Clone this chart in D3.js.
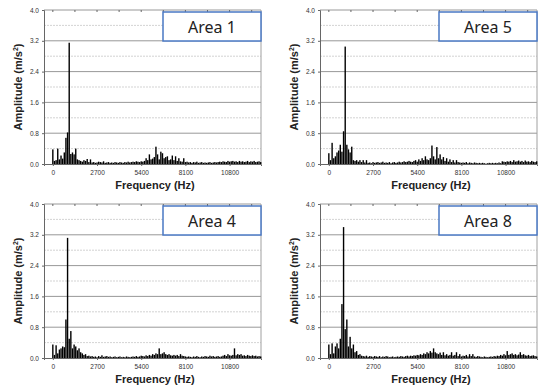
<!DOCTYPE html>
<html>
<head>
<meta charset="utf-8">
<script src="https://cdn.jsdelivr.net/npm/d3@7"></script>
<style>
  body { margin: 0; background: #fff; }
  svg { display: block; }
</style>
</head>
<body>
<div id="chart"></div>
<script>
// spectrum amplitude per 100 Hz bin, from 0 Hz to 12700 Hz
const area1 = [0.38,0.08,0.1,0.4,0.12,0.22,0.14,0.3,0.68,0.82,3.15,0.26,0.3,0.25,0.4,0.12,0.1,0.08,0.06,0.1,
  0.08,0.13,0.05,0.12,0.04,0.05,0.03,0.04,0.06,0.05,0.04,0.07,0.03,0.04,0.05,0.03,0.04,0.03,0.05,0.04,
  0.03,0.05,0.04,0.03,0.05,0.04,0.06,0.04,0.05,0.06,0.05,0.07,0.06,0.05,0.07,0.06,0.08,0.15,0.1,0.25,
  0.12,0.14,0.18,0.45,0.25,0.12,0.32,0.28,0.15,0.18,0.2,0.1,0.12,0.22,0.1,0.2,0.08,0.15,0.07,0.06,
  0.15,0.05,0.06,0.04,0.05,0.03,0.05,0.04,0.06,0.03,0.04,0.05,0.03,0.04,0.03,0.04,0.05,0.03,0.04,0.05,
  0.04,0.05,0.06,0.05,0.07,0.06,0.05,0.08,0.06,0.07,0.08,0.06,0.07,0.05,0.08,0.06,0.07,0.05,0.06,0.08,
  0.05,0.07,0.06,0.08,0.05,0.06,0.07,0.05];
const area5 = [0.28,0.1,0.55,0.15,0.2,0.3,0.35,0.5,0.32,0.85,3.05,0.5,0.38,0.3,0.45,0.1,0.08,0.1,0.06,0.1,
  0.05,0.1,0.04,0.1,0.03,0.04,0.02,0.05,0.03,0.04,0.05,0.03,0.04,0.06,0.03,0.04,0.03,0.05,0.02,0.04,
  0.05,0.03,0.04,0.06,0.04,0.05,0.07,0.05,0.06,0.08,0.06,0.05,0.08,0.1,0.06,0.12,0.08,0.15,0.1,0.2,
  0.12,0.1,0.15,0.48,0.2,0.12,0.44,0.15,0.25,0.12,0.18,0.08,0.15,0.06,0.12,0.05,0.1,0.04,0.1,0.05,
  0.04,0.03,0.04,0.03,0.05,0.02,0.04,0.03,0.02,0.04,0.03,0.02,0.03,0.02,0.03,0.02,0.01,0.02,0.03,0.02,
  0.03,0.02,0.03,0.02,0.04,0.02,0.07,0.06,0.05,0.07,0.06,0.08,0.05,0.1,0.06,0.07,0.09,0.06,0.08,0.05,
  0.09,0.06,0.07,0.05,0.08,0.06,0.05,0.07];
const area4 = [0.35,0.08,0.33,0.12,0.22,0.25,0.3,0.28,1.0,3.12,0.5,0.7,0.25,0.35,0.3,0.2,0.25,0.15,0.12,0.08,
  0.1,0.05,0.06,0.04,0.05,0.03,0.04,0.02,0.05,0.03,0.07,0.03,0.04,0.05,0.03,0.04,0.02,0.03,0.04,0.02,
  0.03,0.04,0.02,0.03,0.02,0.04,0.03,0.02,0.03,0.04,0.03,0.05,0.03,0.04,0.06,0.05,0.04,0.07,0.05,0.08,
  0.06,0.1,0.08,0.12,0.1,0.25,0.1,0.12,0.15,0.1,0.08,0.1,0.07,0.06,0.08,0.06,0.08,0.05,0.1,0.06,
  0.05,0.04,0.03,0.04,0.03,0.02,0.04,0.03,0.05,0.03,0.02,0.04,0.03,0.05,0.04,0.03,0.06,0.04,0.05,0.03,
  0.04,0.05,0.03,0.04,0.06,0.08,0.05,0.1,0.07,0.06,0.08,0.25,0.07,0.1,0.08,0.1,0.06,0.07,0.05,0.08,
  0.06,0.05,0.07,0.05,0.06,0.04,0.05,0.04];
const area8 = [0.35,0.1,0.38,0.12,0.3,0.38,0.25,0.5,1.4,3.4,0.75,1.0,0.3,0.55,0.25,0.35,0.15,0.18,0.08,0.1,
  0.06,0.05,0.04,0.06,0.03,0.05,0.04,0.03,0.05,0.04,0.03,0.05,0.02,0.04,0.03,0.05,0.04,0.02,0.03,0.04,
  0.02,0.03,0.04,0.03,0.05,0.04,0.03,0.05,0.06,0.04,0.06,0.05,0.07,0.06,0.08,0.07,0.1,0.08,0.12,0.1,
  0.15,0.12,0.18,0.14,0.25,0.15,0.12,0.1,0.14,0.08,0.15,0.07,0.1,0.06,0.08,0.15,0.06,0.08,0.15,0.05,
  0.1,0.04,0.06,0.05,0.08,0.04,0.1,0.05,0.1,0.04,0.03,0.05,0.04,0.03,0.02,0.04,0.03,0.02,0.03,0.04,
  0.03,0.05,0.04,0.06,0.05,0.08,0.06,0.1,0.07,0.18,0.08,0.1,0.12,0.08,0.1,0.07,0.09,0.15,0.08,0.1,
  0.07,0.06,0.08,0.05,0.06,0.07,0.05,0.04];

const binStep = 100;
const xTicks = [0, 2700, 5400, 8100, 10800];
const yTicks = [0.0, 0.8, 1.6, 2.4, 3.2, 4.0];
const yMinor = [0.4, 1.2, 2.0, 2.8, 3.6];

const panels = [
  {name: 'Area 1', values: area1, left: 44, top: 10},
  {name: 'Area 5', values: area5, left: 320, top: 10},
  {name: 'Area 4', values: area4, left: 44, top: 204},
  {name: 'Area 8', values: area8, left: 320, top: 204}
];

const W = 541, H = 387;
const pw = 217, ph = 154;

const svg = d3.select('#chart').append('svg')
  .attr('width', W)
  .attr('height', H);

const x = d3.scaleLinear().domain([-540, 12720]).range([0, pw]);
const y = d3.scaleLinear().domain([0, 4]).range([ph, 0]);

panels.forEach(p => {
  const g = svg.append('g').attr('transform', `translate(${p.left},${p.top})`);

  // minor grid
  g.selectAll('.minor').data(yMinor).enter().append('line')
    .attr('x1', 0).attr('x2', pw)
    .attr('y1', d => y(d)).attr('y2', d => y(d))
    .attr('stroke', '#c8c8c8')
    .attr('stroke-dasharray', '2,1')
    .attr('stroke-width', 0.8);

  // major grid
  g.selectAll('.major').data(yTicks.slice(1)).enter().append('line')
    .attr('x1', 0).attr('x2', pw)
    .attr('y1', d => y(d)).attr('y2', d => y(d))
    .attr('stroke', '#8c8c8c')
    .attr('stroke-width', 0.9);

  // right border
  g.append('line')
    .attr('x1', pw).attr('x2', pw).attr('y1', 0).attr('y2', ph)
    .attr('stroke', '#a0a0a0');

  // top ticks
  const topTicks = d3.range(0, 12720, 1350);
  g.selectAll('.tt').data(topTicks).enter().append('line')
    .attr('x1', d => x(d)).attr('x2', d => x(d))
    .attr('y1', 0).attr('y2', 2)
    .attr('stroke', '#666');

  // bars
  const data = p.values.map((v, i) => ({f: i * binStep, v: v}));
  g.selectAll('.bar').data(data).enter().append('rect')
    .attr('x', d => x(d.f) - 0.7)
    .attr('width', 1.4)
    .attr('y', d => y(d.v))
    .attr('height', d => y(0) - y(d.v))
    .attr('fill', '#000');

  // axes
  const xAxis = g.append('g')
    .attr('transform', `translate(0,${ph})`)
    .call(d3.axisBottom(x).tickValues(xTicks).tickSize(2).tickFormat(d3.format('d')));
  xAxis.select('.domain').attr('stroke', '#666');
  xAxis.selectAll('.tick line').attr('stroke', '#666');
  xAxis.selectAll('text').attr('font-family', 'Liberation Sans, Arial, sans-serif')
    .attr('font-size', 6.5).attr('fill', '#333').attr('dy', '0.9em');

  const yAxis = g.append('g')
    .call(d3.axisLeft(y).tickValues(yTicks).tickSize(2).tickFormat(d3.format('.1f')));
  yAxis.select('.domain').attr('stroke', '#666');
  yAxis.selectAll('.tick line').attr('stroke', '#666');
  yAxis.selectAll('text').attr('font-family', 'Liberation Sans, Arial, sans-serif')
    .attr('font-size', 6.5).attr('fill', '#333');

  // axis titles
  g.append('text')
    .attr('x', 111).attr('y', ph + 25)
    .attr('text-anchor', 'middle')
    .attr('font-family', 'Liberation Sans, Arial, sans-serif')
    .attr('font-weight', 'bold')
    .attr('font-size', 11)
    .attr('fill', '#222')
    .text('Frequency (Hz)');

  const yl = g.append('text')
    .attr('transform', `translate(-22,${ph / 2}) rotate(-90)`)
    .attr('text-anchor', 'middle')
    .attr('font-family', 'Liberation Sans, Arial, sans-serif')
    .attr('font-weight', 'bold')
    .attr('font-size', 11)
    .attr('fill', '#222');
  yl.append('tspan').text('Amplitude (m/s');
  yl.append('tspan').attr('dy', -4).attr('font-size', 7).text('2');
  yl.append('tspan').attr('dy', 4).text(')');

  // area label box
  g.append('rect')
    .attr('x', pw - 98).attr('y', 2)
    .attr('width', 98).attr('height', 29)
    .attr('fill', '#fff')
    .attr('stroke', '#4a78c4')
    .attr('stroke-width', 1.5);
  g.append('text')
    .attr('x', pw - 49).attr('y', 22.5)
    .attr('text-anchor', 'middle')
    .attr('font-family', 'Noto Sans, sans-serif')
    .attr('font-size', 16)
    .attr('fill', '#222')
    .text(p.name);
});
</script>
</body>
</html>
